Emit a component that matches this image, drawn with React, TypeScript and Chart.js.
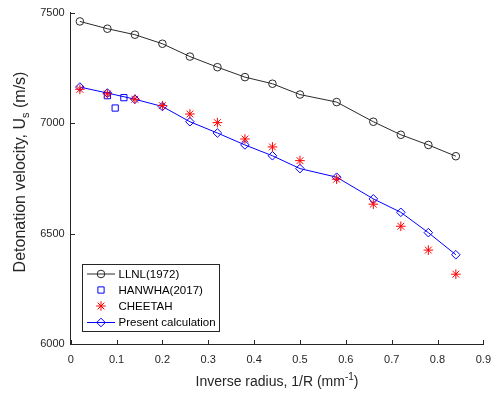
import React, { useEffect, useRef } from 'react';
import { Chart, registerables } from 'chart.js';
import { drawPoint } from 'chart.js/helpers';

Chart.register(...registerables);

// ---- data ----
const inverseRadius = [0.02, 0.08, 0.14, 0.2, 0.26, 0.32, 0.38, 0.44, 0.5, 0.58, 0.66, 0.72, 0.78, 0.84];
const llnl1972 = [7460, 7427, 7400, 7359, 7301, 7253, 7208, 7178, 7129, 7095, 7006, 6947, 6901, 6850];
const cheetah = [7153, 7132, 7108, 7079, 7041, 7002, 6928, 6892, 6830, 6746, 6633, 6533, 6425, 6316];
const presentCalc = [7163, 7136, 7108, 7075, 7006, 6955, 6901, 6852, 6794, 6755, 6657, 6596, 6504, 6404];
const hanwhaX = [0.08, 0.097, 0.116];
const hanwha2017 = [7124, 7068, 7115];

const xTicks = [0, 0.1, 0.2, 0.3, 0.4, 0.5, 0.6, 0.7, 0.8, 0.9];
const xTickLabels = ['0', '0.1', '0.2', '0.3', '0.4', '0.5', '0.6', '0.7', '0.8', '0.9'];
const yTicks = [6000, 6500, 7000, 7500];
const yTickLabels = ['6000', '6500', '7000', '7500'];

const seriesNames = ['LLNL(1972)', 'HANWHA(2017)', 'CHEETAH', 'Present calculation'];

const FONT = "'Liberation Sans', Arial, Helvetica, sans-serif";
const AXIS_COLOR = '#262626';
const LLNL_COLOR = '#2a2a2a';
const BLUE = 'rgb(0,0,255)';
const RED = 'rgb(255,0,0)';

const legendItems = [
  { label: seriesNames[0], color: LLNL_COLOR, line: true, style: 'circle', radius: 3.8 },
  { label: seriesNames[1], color: BLUE, line: false, style: 'rect', radius: 4.4 },
  { label: seriesNames[2], color: RED, line: false, style: 'star', radius: 4.8 },
  { label: seriesNames[3], color: BLUE, line: true, style: 'rectRot', radius: 4.3 },
];

function drawParts(ctx: CanvasRenderingContext2D, parts: { t: string; size: number; dy: number }[], cx: number, baseY: number) {
  let total = 0;
  for (const p of parts) {
    ctx.font = `${p.size}px ${FONT}`;
    total += ctx.measureText(p.t).width;
  }
  let x = cx - total / 2;
  ctx.textAlign = 'left';
  ctx.textBaseline = 'alphabetic';
  for (const p of parts) {
    ctx.font = `${p.size}px ${FONT}`;
    ctx.fillText(p.t, x, baseY + p.dy);
    x += ctx.measureText(p.t).width;
  }
}

const decorPlugin = {
  id: 'decor',
  beforeDatasetsDraw(chart: any) {
    const ctx: CanvasRenderingContext2D = chart.ctx;
    const xs = chart.scales.x;
    const ys = chart.scales.y;
    const { left, bottom } = chart.chartArea;
    ctx.save();
    ctx.strokeStyle = AXIS_COLOR;
    ctx.lineWidth = 1;
    ctx.beginPath();
    for (const v of xTicks) {
      const px = Math.round(xs.getPixelForValue(v)) + 0.5;
      ctx.moveTo(px, Math.round(bottom));
      ctx.lineTo(px, Math.round(bottom) - 4);
    }
    for (const v of yTicks) {
      const py = Math.round(ys.getPixelForValue(v)) + 0.5;
      ctx.moveTo(Math.round(left), py);
      ctx.lineTo(Math.round(left) + 4, py);
    }
    ctx.stroke();
    ctx.restore();
  },
  afterDraw(chart: any) {
    const ctx: CanvasRenderingContext2D = chart.ctx;
    const { left, right } = chart.chartArea;
    ctx.save();
    ctx.fillStyle = AXIS_COLOR;
    // x title
    drawParts(
      ctx,
      [
        { t: 'Inverse radius, 1/R (mm', size: 14, dy: 0 },
        { t: '-1', size: 10, dy: -6 },
        { t: ')', size: 14, dy: 0 },
      ],
      (left + right) / 2,
      386
    );
    // y title
    ctx.save();
    ctx.translate(25, 172);
    ctx.rotate(-Math.PI / 2);
    drawParts(
      ctx,
      [
        { t: 'Detonation velocity, U', size: 16, dy: 0 },
        { t: 's', size: 11, dy: 3.5 },
        { t: ' (m/s)', size: 16, dy: 0 },
      ],
      0,
      0
    );
    ctx.restore();

    // legend
    const bx = 82.5, by = 264.5, bw = 137, bh = 67;
    ctx.fillStyle = '#ffffff';
    ctx.fillRect(bx, by, bw, bh);
    ctx.strokeStyle = AXIS_COLOR;
    ctx.lineWidth = 1;
    ctx.strokeRect(bx, by, bw, bh);
    const rows = [274, 290, 306, 322.5];
    legendItems.forEach((it, i) => {
      const y = rows[i];
      ctx.strokeStyle = it.color;
      ctx.fillStyle = 'rgba(0,0,0,0)';
      ctx.lineWidth = 1;
      if (it.line) {
        ctx.beginPath();
        ctx.moveTo(87, y);
        ctx.lineTo(115, y);
        ctx.stroke();
      }
      drawPoint(ctx, { pointStyle: it.style, radius: it.radius, rotation: 0, borderWidth: 1 } as any, 101, y);
      ctx.fillStyle = '#000000';
      ctx.font = `11.5px ${FONT}`;
      ctx.textAlign = 'left';
      ctx.textBaseline = 'middle';
      ctx.fillText(it.label, 118.5, y + 0.5);
    });
    ctx.restore();
  },
};

export default function App() {
  const ref = useRef<HTMLCanvasElement | null>(null);
  useEffect(() => {
    if (!ref.current) return;
    const toPts = (xs: number[], ys: number[]) => xs.map((x, i) => ({ x, y: ys[i] }));
    const chart = new Chart(ref.current, {
      type: 'scatter',
      data: {
        datasets: [
          {
            label: seriesNames[0],
            data: toPts(inverseRadius, llnl1972),
            showLine: true,
            borderColor: LLNL_COLOR,
            borderWidth: 1,
            pointStyle: 'circle',
            pointRadius: 3.8,
            pointBorderWidth: 1,
            pointBorderColor: LLNL_COLOR,
            pointBackgroundColor: 'rgba(0,0,0,0)',
            order: 4,
          },
          {
            label: seriesNames[1],
            data: toPts(hanwhaX, hanwha2017),
            showLine: false,
            borderColor: BLUE,
            pointStyle: 'rect',
            pointRadius: 4.4,
            pointBorderWidth: 1,
            pointBorderColor: BLUE,
            pointBackgroundColor: 'rgba(0,0,0,0)',
            order: 3,
          },
          {
            label: seriesNames[2],
            data: toPts(inverseRadius, cheetah),
            showLine: false,
            borderColor: RED,
            pointStyle: 'star',
            pointRadius: 4.8,
            pointBorderWidth: 1,
            pointBorderColor: RED,
            pointBackgroundColor: 'rgba(0,0,0,0)',
            order: 1,
          },
          {
            label: seriesNames[3],
            data: toPts(inverseRadius, presentCalc),
            showLine: true,
            borderColor: BLUE,
            borderWidth: 1,
            pointStyle: 'rectRot',
            pointRadius: 4.3,
            pointBorderWidth: 1,
            pointBorderColor: BLUE,
            pointBackgroundColor: 'rgba(0,0,0,0)',
            order: 2,
          },
        ],
      },
      options: {
        animation: false,
        responsive: false,
        events: [],
        layout: { padding: { left: 0, top: 10, right: 14.3, bottom: 0 } },
        plugins: { legend: { display: false }, tooltip: { enabled: false }, title: { display: false } },
        scales: {
          x: {
            type: 'linear',
            min: 0,
            max: 0.9,
            afterBuildTicks: (s: any) => {
              s.ticks = xTicks.map((v) => ({ value: v }));
            },
            afterFit: (s: any) => {
              s.height = 50;
            },
            grid: { display: false, drawTicks: false },
            border: { display: true, color: AXIS_COLOR, width: 1 },
            ticks: {
              padding: 9,
              color: AXIS_COLOR,
              font: { family: FONT, size: 11 },
              maxRotation: 0,
              autoSkip: false,
              callback: (_v: any, i: number) => xTickLabels[i],
            },
            title: { display: false },
          },
          y: {
            type: 'linear',
            min: 6000,
            max: 7500,
            afterBuildTicks: (s: any) => {
              s.ticks = yTicks.map((v) => ({ value: v }));
            },
            afterFit: (s: any) => {
              s.width = 70.7;
            },
            grid: { display: false, drawTicks: false },
            border: { display: true, color: AXIS_COLOR, width: 1 },
            ticks: {
              padding: 6,
              color: AXIS_COLOR,
              font: { family: FONT, size: 11 },
              autoSkip: false,
              callback: (_v: any, i: number) => yTickLabels[i],
            },
            title: { display: false },
          },
        },
      } as any,
      plugins: [decorPlugin],
    });
    return () => chart.destroy();
  }, []);

  return (
    <div style={{ position: 'absolute', left: 0, top: 0, width: 500, height: 394, background: '#fff' }}>
      <canvas ref={ref} width={500} height={394} style={{ display: 'block' }} />
    </div>
  );
}
